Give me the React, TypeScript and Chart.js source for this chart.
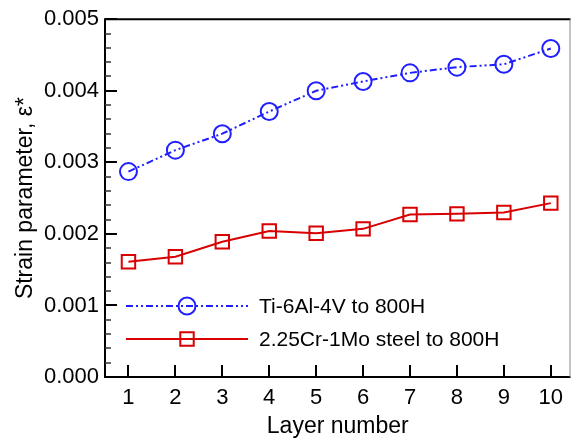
import React, { useEffect, useRef } from 'react';
import { Chart, registerables } from 'chart.js';

Chart.register(...registerables);

const layers = [1, 2, 3, 4, 5, 6, 7, 8, 9, 10];
const tiValues = [0.00287, 0.00317, 0.0034, 0.00371, 0.004, 0.00413, 0.00425, 0.00433, 0.00437, 0.00459];
const crValues = [0.00161, 0.00168, 0.00189, 0.00204, 0.00201, 0.00207, 0.00227, 0.00228, 0.0023, 0.00243];
const yTicks = [0, 0.001, 0.002, 0.003, 0.004, 0.005];
const seriesLabels = ['Ti-6Al-4V to 800H', '2.25Cr-1Mo steel to 800H'];
const xTitle = 'Layer number';
const yTitle = 'Strain parameter, \u03b5*';

const FONT = "'Liberation Sans', Arial, sans-serif";
const BLUE = '#1f1fff';
const RED = '#d80000';

const framePlugin = {
  id: 'framePlugin',
  afterDraw(chart: any) {
    const ctx = chart.ctx as CanvasRenderingContext2D;
    const { left, right, top, bottom } = chart.chartArea;
    const xs = chart.scales.x;
    const ys = chart.scales.y;
    ctx.save();
    // frame
    ctx.strokeStyle = '#000';
    ctx.lineWidth = 2;
    ctx.beginPath();
    ctx.moveTo(right, top);
    ctx.lineTo(left, top);
    ctx.lineTo(left, bottom);
    ctx.lineTo(right, bottom);
    ctx.stroke();
    ctx.strokeStyle = '#888';
    ctx.lineWidth = 1;
    ctx.beginPath();
    ctx.moveTo(right - 0.5, top);
    ctx.lineTo(right - 0.5, bottom);
    ctx.stroke();
    // x ticks (inward)
    ctx.strokeStyle = '#000';
    ctx.lineWidth = 2;
    ctx.beginPath();
    layers.forEach((v) => {
      const px = Math.round(xs.getPixelForValue(v));
      ctx.moveTo(px, bottom);
      ctx.lineTo(px, bottom - 12);
    });
    // y major ticks
    yTicks.forEach((v) => {
      const py = Math.round(ys.getPixelForValue(v));
      ctx.moveTo(left, py);
      ctx.lineTo(left + 12, py);
    });
    ctx.stroke();
    // y minor ticks
    ctx.lineWidth = 1.5;
    ctx.strokeStyle = '#333';
    ctx.beginPath();
    const step = (yTicks[1] - yTicks[0]) / 5;
    for (let i = 1; i < (yTicks.length - 1) * 5; i++) {
      if (i % 5 === 0) continue;
      const py = Math.round(ys.getPixelForValue(yTicks[0] + i * step));
      ctx.moveTo(left, py);
      ctx.lineTo(left + 6, py);
    }
    ctx.stroke();

    // legend
    const rowsY = [306, 339];
    const lineX0 = 126;
    const lineX1 = 248;
    const markX = 187;
    const textX = 259;
    chart.data.datasets.forEach((ds: any, i: number) => {
      const y = rowsY[i];
      ctx.strokeStyle = ds.borderColor;
      ctx.lineWidth = ds.borderWidth;
      ctx.setLineDash(ds.borderDash || []);
      ctx.beginPath();
      ctx.moveTo(lineX0, y);
      ctx.lineTo(lineX1, y);
      ctx.stroke();
      ctx.setLineDash([]);
      ctx.lineWidth = ds.pointBorderWidth;
      ctx.beginPath();
      if (ds.pointStyle === 'rect') {
        const s = Math.SQRT1_2 * ds.pointRadius;
        ctx.rect(markX - s, y - s, 2 * s, 2 * s);
      } else {
        ctx.arc(markX, y, ds.pointRadius, 0, Math.PI * 2);
      }
      ctx.stroke();
      ctx.fillStyle = '#000';
      ctx.font = `21px ${FONT}`;
      ctx.textAlign = 'left';
      ctx.textBaseline = 'middle';
      ctx.fillText(ds.label, textX, y + 1);
    });
    ctx.restore();
  },
};

export default function App() {
  const ref = useRef<HTMLCanvasElement | null>(null);
  useEffect(() => {
    if (!ref.current) return;
    const chart = new Chart(ref.current, {
      type: 'line',
      data: {
        datasets: [
          {
            label: seriesLabels[0],
            data: layers.map((x, i) => ({ x, y: tiValues[i] })),
            borderColor: BLUE,
            borderWidth: 2,
            borderDash: [7, 3, 2, 3, 2, 3],
            pointStyle: 'circle',
            pointRadius: 8.5,
            pointBorderWidth: 2,
            pointBorderColor: BLUE,
            pointBackgroundColor: 'rgba(0,0,0,0)',
            tension: 0,
            fill: false,
          } as any,
          {
            label: seriesLabels[1],
            data: layers.map((x, i) => ({ x, y: crValues[i] })),
            borderColor: RED,
            borderWidth: 2,
            pointStyle: 'rect',
            pointRadius: 9.5,
            pointBorderWidth: 2,
            pointBorderColor: RED,
            pointBackgroundColor: 'rgba(0,0,0,0)',
            tension: 0,
            fill: false,
          } as any,
        ],
      },
      options: {
        animation: false,
        responsive: false,
        devicePixelRatio: 1,
        layout: { padding: { left: 0, right: 2, top: 16, bottom: 0 } },
        plugins: { legend: { display: false }, tooltip: { enabled: false } },
        scales: {
          x: {
            type: 'linear',
            min: 0.5,
            max: 10.42,
            grid: { display: false, drawTicks: false },
            border: { display: false },
            afterBuildTicks: (scale: any) => {
              scale.ticks = layers.map((v) => ({ value: v }));
            },
            afterFit: (scale: any) => {
              scale.height = 64;
            },
            ticks: {
              color: '#000',
              font: { family: FONT, size: 22 },
              padding: 8,
              maxRotation: 0,
              autoSkip: false,
              callback: (v: any) => String(v),
            },
            title: {
              display: true,
              text: xTitle,
              color: '#000',
              font: { family: FONT, size: 23 },
              padding: { top: 0, bottom: 1 },
            },
          },
          y: {
            type: 'linear',
            min: yTicks[0],
            max: yTicks[yTicks.length - 1],
            grid: { display: false, drawTicks: false },
            border: { display: false },
            afterBuildTicks: (scale: any) => {
              scale.ticks = yTicks.map((v) => ({ value: v }));
            },
            afterFit: (scale: any) => {
              scale.width = 105;
            },
            ticks: {
              color: '#000',
              font: { family: FONT, size: 22 },
              padding: 6,
              autoSkip: false,
              callback: (v: any) => Number(v).toFixed(3),
            },
            title: {
              display: true,
              text: yTitle,
              color: '#000',
              font: { family: FONT, size: 23 },
              padding: { top: 12, bottom: 0 },
            },
          },
        },
      } as any,
      plugins: [framePlugin],
    });
    return () => chart.destroy();
  }, []);
  return (
    <div style={{ position: 'fixed', left: 0, top: 0, width: 582, height: 441, background: '#fff' }}>
      <canvas ref={ref} width={582} height={441} />
    </div>
  );
}
